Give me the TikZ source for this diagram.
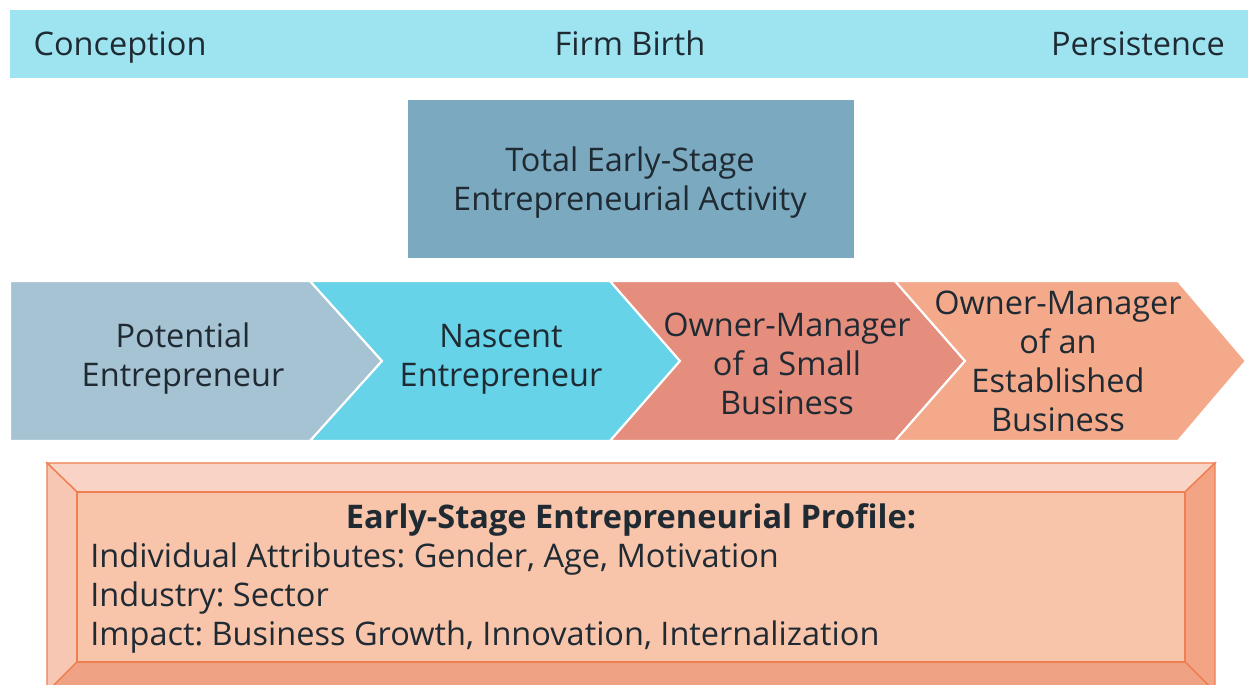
\documentclass[tikz,border=0pt]{standalone}
\usepackage{fontspec}
\setmainfont{Open Sans}
\frenchspacing
\definecolor{band}{HTML}{9EE4F0}
\definecolor{tea}{HTML}{7BAAC0}
\definecolor{chA}{HTML}{A6C3D4}
\definecolor{chB}{HTML}{67D3E8}
\definecolor{chC}{HTML}{E58E7E}
\definecolor{chD}{HTML}{F4A98A}
\definecolor{txt}{HTML}{1F2A33}
\definecolor{bevTop}{HTML}{F9D3C5}
\definecolor{bevLeft}{HTML}{F8C7B3}
\definecolor{bevRight}{HTML}{F2A485}
\definecolor{bevBot}{HTML}{F0A384}
\definecolor{face}{HTML}{F8C4AA}
\definecolor{edge}{HTML}{EE7F50}
\tikzset{
  lbl/.style={text=txt, font=\fontsize{18.5}{22.2}\selectfont, align=center, inner sep=0pt},
  chev/.style={draw=white, line width=1.2pt, line join=miter},
  bev/.style={draw=edge, line width=0.8pt, line join=miter}
}
\begin{document}
\begin{tikzpicture}[x=0.02cm, y=-0.02cm]
\useasboundingbox (0,0) rectangle (1248,685);
\fill[white] (0,0) rectangle (1248,685);
% top band
\fill[band] (10,10) rectangle (1248,78);
\node[lbl, anchor=base] (conc) at (120,56) {Conception};
\node[lbl, anchor=base] (birth) at (630,56) {Firm Birth};
\node[lbl, anchor=base] (pers) at (1138,56) {Persistence};
% TEA box
\fill[tea] (408,100) rectangle (854,258);
\node[lbl] (tea) at (630,183) {Total Early-Stage\\Entrepreneurial Activity};
% chevrons
\path[chev, fill=chA] (10,281) -- (310,281) -- (382,361) -- (310,441) -- (10,441) -- cycle;
\path[chev, fill=chB] (310,281) -- (610,281) -- (680,361) -- (610,441) -- (310,441) -- (382,361) -- cycle;
\path[chev, fill=chC] (610,281) -- (895,281) -- (965,361) -- (895,441) -- (610,441) -- (680,361) -- cycle;
\path[chev, fill=chD] (895,281) -- (1178,281) -- (1246,361) -- (1178,441) -- (895,441) -- (965,361) -- cycle;
\node[lbl] (pot) at (183,359) {Potential\\Entrepreneur};
\node[lbl] (nas) at (501,359) {Nascent\\Entrepreneur};
\node[lbl] (small) at (787,364) {Owner-Manager\\of a Small\\Business};
\node[lbl] (est) at (1058,361) {Owner-Manager\\of an\\Established\\Business};
% bevelled profile box
\path[bev, fill=bevTop] (47,463) -- (1215,463) -- (1185,492) -- (77,492) -- cycle;
\path[bev, fill=bevLeft] (47,463) -- (77,492) -- (77,662) -- (47,692) -- cycle;
\path[bev, fill=bevRight] (1215,463) -- (1215,692) -- (1185,662) -- (1185,492) -- cycle;
\path[bev, fill=bevBot] (47,692) -- (77,662) -- (1185,662) -- (1215,692) -- cycle;
\path[bev, fill=face] (77,492) rectangle (1185,662);
\node[lbl, font=\fontsize{18.5}{22.2}\bfseries] (prof) at (631,520) {Early-Stage Entrepreneurial Profile:};
\node[lbl, anchor=west, align=left] (attr) at (90,598) {Individual Attributes: Gender, Age, Motivation\\Industry: Sector\\Impact: Business Growth, Innovation, Internalization};
\end{tikzpicture}
\end{document}
